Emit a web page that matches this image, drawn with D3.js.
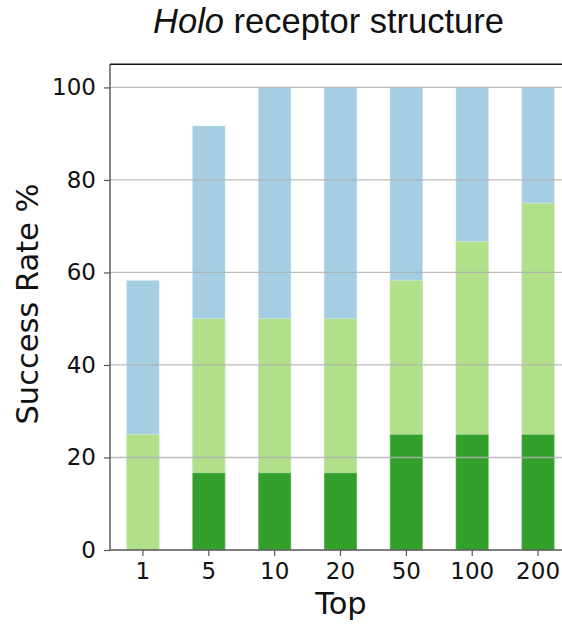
<!DOCTYPE html>
<html><head><meta charset="utf-8">
<script src="https://cdn.jsdelivr.net/npm/d3@7"></script>
<style>body{margin:0;background:#fff}</style>
</head><body>
<script>
const categories = ["1","5","10","20","50","100","200"];
const totalRate = [58.3, 91.7, 100, 100, 100, 100, 100];
const midRate   = [25, 50, 50, 50, 58.3, 66.7, 75];
const topRate   = [0, 16.7, 16.7, 16.7, 25, 25, 25];
const yTicks = [0, 20, 40, 60, 80, 100];
const seriesColors = ["#a6cee3", "#b2df8a", "#33a02c"];

const W = 562, H = 627;
const svg = d3.select("body").append("svg").attr("width", W).attr("height", H);
const pLeft = 110, pRight = 571, pTop = 64.3, pBottom = 550;

const x = d3.scaleBand().domain(categories).range([pLeft, pRight]).paddingInner(0.5).paddingOuter(0.25);
const y = d3.scaleLinear().domain([0, 105]).range([pBottom, pTop]);

const g = svg.append("g");
[totalRate, midRate, topRate].forEach((vals, si) => {
  g.selectAll(null).data(categories).enter().append("rect")
    .attr("x", d => x(d))
    .attr("width", x.bandwidth())
    .attr("y", (d, i) => y(vals[i]))
    .attr("height", (d, i) => y(0) - y(vals[i]))
    .attr("fill", seriesColors[si])
    .attr("stroke", "#ffffff").attr("stroke-opacity", 0.35).attr("stroke-width", 1);
});

// gridlines over bars
svg.append("g").selectAll("line").data(yTicks.filter(t => t > 0)).enter().append("line")
  .attr("x1", pLeft).attr("x2", W)
  .attr("y1", d => y(d)).attr("y2", d => y(d))
  .attr("stroke", "#b0b0b0").attr("stroke-opacity", 0.85).attr("stroke-width", 1.3);

// axes
const yAxis = svg.append("g").attr("transform", `translate(${pLeft},0)`)
  .call(d3.axisLeft(y).tickValues(yTicks).tickSize(6).tickPadding(8));
const xAxis = svg.append("g").attr("transform", `translate(0,${pBottom})`)
  .call(d3.axisBottom(x).tickSize(6).tickPadding(7));
[yAxis, xAxis].forEach(a => {
  a.select(".domain").attr("stroke", "#555").attr("stroke-width", 1.4);
  a.selectAll(".tick line").attr("stroke", "#555").attr("stroke-width", 1.2);
  a.selectAll(".tick text").attr("font-family", "DejaVu Sans").attr("font-size", 23).attr("fill", "#111");
});
yAxis.select(".domain").attr("d", `M0,${pBottom}V${pTop}`);
xAxis.select(".domain").attr("d", `M${pLeft},0H${W}`);
// top spine
svg.append("line").attr("x1", pLeft).attr("x2", W).attr("y1", pTop).attr("y2", pTop)
  .attr("stroke", "#111").attr("stroke-width", 1.4);

// labels
svg.append("text").attr("x", 341).attr("y", 614).attr("text-anchor", "middle")
  .attr("font-family", "DejaVu Sans").attr("font-size", 30.5).attr("fill", "#111").text("Top");
svg.append("text").attr("transform", `translate(38,304) rotate(-90)`).attr("text-anchor", "middle")
  .attr("font-family", "DejaVu Sans").attr("font-size", 30.5).attr("fill", "#111").text("Success Rate %");
const title = svg.append("text").attr("x", 328.5).attr("y", 33).attr("text-anchor", "middle")
  .attr("font-family", "Liberation Sans, Arial, sans-serif").attr("font-size", 34.5).attr("fill", "#111");
title.append("tspan").attr("font-style", "italic").text("Holo");
title.append("tspan").text(" receptor structure");
</script>
</body></html>
